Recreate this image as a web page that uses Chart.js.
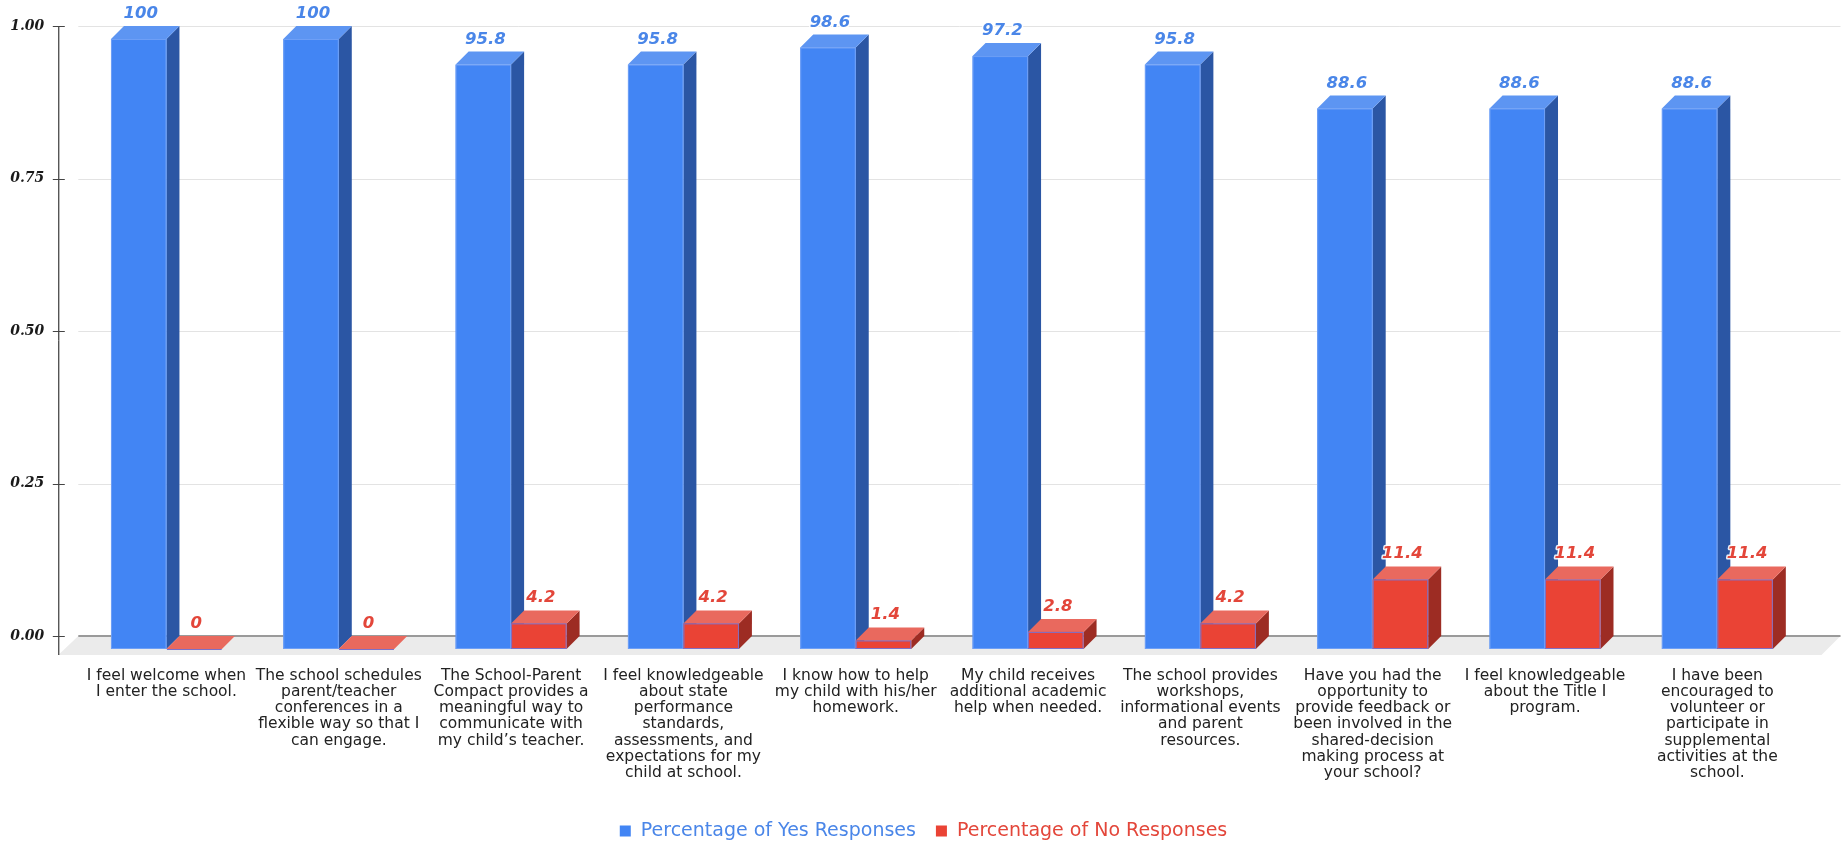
<!DOCTYPE html>
<html>
<head>
<meta charset="utf-8">
<title>Parent Survey Responses</title>
<script src="https://cdn.jsdelivr.net/npm/chart.js@4.4.1/dist/chart.umd.min.js"></script>
<style>
  html, body { margin: 0; padding: 0; background: #fff; }
  #wrap { width: 1847px; height: 844px; position: relative; }
</style>
</head>
<body>
<div id="wrap"><canvas id="survey"></canvas></div>
<script>
const questions = [
  ['I feel welcome when', 'I enter the school.'],
  ['The school schedules', 'parent/teacher', 'conferences in a', 'flexible way so that I', 'can engage.'],
  ['The School-Parent', 'Compact provides a', 'meaningful way to', 'communicate with', 'my child\u2019s teacher.'],
  ['I feel knowledgeable', 'about state', 'performance', 'standards,', 'assessments, and', 'expectations for my', 'child at school.'],
  ['I know how to help', 'my child with his/her', 'homework.'],
  ['My child receives', 'additional academic', 'help when needed.'],
  ['The school provides', 'workshops,', 'informational events', 'and parent', 'resources.'],
  ['Have you had the', 'opportunity to', 'provide feedback or', 'been involved in the', 'shared-decision', 'making process at', 'your school?'],
  ['I feel knowledgeable', 'about the Title I', 'program.'],
  ['I have been', 'encouraged to', 'volunteer or', 'participate in', 'supplemental', 'activities at the', 'school.']
];
const yesPct = [100, 100, 95.8, 95.8, 98.6, 97.2, 95.8, 88.6, 88.6, 88.6];
const noPct = [0, 0, 4.2, 4.2, 1.4, 2.8, 4.2, 11.4, 11.4, 11.4];
const seriesNames = ['Percentage of Yes Responses', 'Percentage of No Responses'];
const yTicks = [0, 0.25, 0.5, 0.75, 1];

// shading for each series: front, side, top, outline, label
const faces = [
  { front: '#4285f4', side: '#2b56a4', top: '#5d95f2', edge: '#6e9ff6', label: '#4a86e8', key: '#4285f4' },
  { front: '#ea4335', side: '#9d2c23', top: '#e9695e', edge: '#7d70c8', label: '#e3463a', key: '#ea4335' }
];
const DEPTH = 13;

const bars3d = {
  id: 'bars3d',
  beforeDatasetsDraw(chart) {
    const { ctx, chartArea, scales: { y } } = chart;
    const gx0 = chartArea.left - 15;
    const gx1 = chartArea.right + 24;
    const zy = y.getPixelForValue(0);
    ctx.save();
    // grid lines on the back wall
    ctx.lineWidth = 1;
    ctx.strokeStyle = '#e3e3e3';
    yTicks.forEach((v) => {
      if (v === 0) return;
      const py = Math.round(y.getPixelForValue(v)) + 0.5;
      ctx.beginPath();
      ctx.moveTo(gx0, py);
      ctx.lineTo(gx1, py);
      ctx.stroke();
    });
    // floor
    ctx.fillStyle = '#ebebeb';
    ctx.beginPath();
    ctx.moveTo(gx0, zy);
    ctx.lineTo(gx1, zy);
    ctx.lineTo(gx1 - 19, zy + 19);
    ctx.lineTo(gx0 - 20, zy + 19);
    ctx.closePath();
    ctx.fill();
    ctx.strokeStyle = '#9a9a9a';
    ctx.lineWidth = 2;
    ctx.beginPath();
    ctx.moveTo(gx0, zy);
    ctx.lineTo(gx1, zy);
    ctx.stroke();
    // vertical axis and tick marks
    const ax = gx0 - 19.5;
    ctx.strokeStyle = '#111';
    ctx.lineWidth = 1;
    ctx.beginPath();
    ctx.moveTo(ax, y.getPixelForValue(1));
    ctx.lineTo(ax, zy + 19);
    ctx.stroke();
    ctx.strokeStyle = '#444';
    yTicks.forEach((v) => {
      const py = Math.round(y.getPixelForValue(v)) + 0.5;
      ctx.beginPath();
      ctx.moveTo(ax - 6, py);
      ctx.lineTo(ax + 6, py);
      ctx.stroke();
    });
    ctx.restore();
  },
  afterDatasetsDraw(chart) {
    const { ctx } = chart;
    const metas = chart.data.datasets.map((_, i) => chart.getDatasetMeta(i));
    const D = DEPTH;
    ctx.save();
    questions.forEach((_, i) => {
      metas.forEach((meta, s) => {
        const f = faces[s];
        const { x, y, base, width } = meta.data[i].getProps(['x', 'y', 'base', 'width'], true);
        const x1 = x - width / 2 - D;
        const x2 = x + width / 2 - D;
        const yt = y + D;
        const yb = base + D;
        // side
        ctx.fillStyle = f.side;
        ctx.beginPath();
        ctx.moveTo(x2, yt);
        ctx.lineTo(x2 + D, yt - D);
        ctx.lineTo(x2 + D, yb - D);
        ctx.lineTo(x2, yb);
        ctx.closePath();
        ctx.fill();
        // top
        ctx.fillStyle = f.top;
        ctx.beginPath();
        ctx.moveTo(x1, yt);
        ctx.lineTo(x1 + D, yt - D);
        ctx.lineTo(x2 + D, yt - D);
        ctx.lineTo(x2, yt);
        ctx.closePath();
        ctx.fill();
        // front
        ctx.fillStyle = f.front;
        ctx.fillRect(x1, yt, x2 - x1, yb - yt);
        ctx.strokeStyle = f.edge;
        ctx.lineWidth = 1;
        ctx.strokeRect(x1 + 0.5, yt + 0.5, x2 - x1 - 1, Math.max(yb - yt - 1, 0));
      });
    });
    // value labels
    ctx.font = 'italic bold 16.5px "DejaVu Sans"';
    ctx.textAlign = 'center';
    ctx.textBaseline = 'alphabetic';
    ctx.lineJoin = 'round';
    metas.forEach((meta, s) => {
      const values = s === 0 ? yesPct : noPct;
      meta.data.forEach((bar, i) => {
        const { x, y } = bar.getProps(['x', 'y'], true);
        const tx = x - D + 2;
        const ty = y - 8;
        ctx.strokeStyle = 'rgba(255,255,255,0.9)';
        ctx.lineWidth = 3;
        ctx.strokeText(String(values[i]), tx, ty);
        ctx.fillStyle = faces[s].label;
        ctx.fillText(String(values[i]), tx, ty);
      });
    });
    ctx.restore();
  },
  afterDraw(chart) {
    // legend along the bottom
    const { ctx } = chart;
    ctx.save();
    ctx.font = '19px "DejaVu Sans"';
    ctx.textBaseline = 'middle';
    ctx.textAlign = 'left';
    const box = 11, gap = 10, between = 20;
    const widths = seriesNames.map((n) => box + gap + ctx.measureText(n).width);
    const total = widths.reduce((a, b) => a + b, 0) + between * (widths.length - 1);
    let cx = chart.width / 2 - total / 2;
    const cy = 831;
    seriesNames.forEach((name, s) => {
      ctx.fillStyle = faces[s].key;
      ctx.fillRect(cx, cy - box / 2, box, box);
      ctx.fillStyle = faces[s].label;
      ctx.fillText(name, cx + box + gap, cy);
      cx += widths[s] + between;
    });
    ctx.restore();
  }
};

new Chart(document.getElementById('survey'), {
  type: 'bar',
  data: {
    labels: questions,
    datasets: [
      { label: seriesNames[0], data: yesPct.map((v) => v / 100), backgroundColor: 'rgba(0,0,0,0)' },
      { label: seriesNames[1], data: noPct.map((v) => v / 100), backgroundColor: 'rgba(0,0,0,0)' }
    ]
  },
  options: {
    responsive: true,
    maintainAspectRatio: false,
    devicePixelRatio: 1,
    animation: false,
    events: [],
    categoryPercentage: 0.644,
    barPercentage: 1.0,
    layout: { padding: { top: 26, right: 30.5, bottom: 0, left: 0 } },
    plugins: { legend: { display: false }, tooltip: { enabled: false } },
    scales: {
      x: {
        grid: { display: false, drawTicks: false },
        border: { display: false },
        ticks: {
          autoSkip: false,
          maxRotation: 0,
          labelOffset: -13,
          padding: 31.5,
          color: '#222',
          font: { family: '"DejaVu Sans"', size: 15.5, lineHeight: 1.05 }
        },
        afterFit: (scale) => { scale.height = 844 - 636; }
      },
      y: {
        min: 0,
        max: 1,
        grid: { display: false, drawTicks: false },
        border: { display: false },
        ticks: {
          stepSize: 0.25,
          padding: 49,
          color: '#1a1a1a',
          font: { family: '"DejaVu Serif"', size: 14, style: 'italic', weight: 'bold' },
          callback: (v) => Number(v).toFixed(2)
        },
        afterFit: (scale) => {
          scale.width = 93.3;
          // keep the tick padding from pushing the plot top down
          scale.paddingTop = 8;
          scale.paddingBottom = 8;
        }
      }
    }
  },
  plugins: [bars3d]
});
</script>
</body>
</html>
